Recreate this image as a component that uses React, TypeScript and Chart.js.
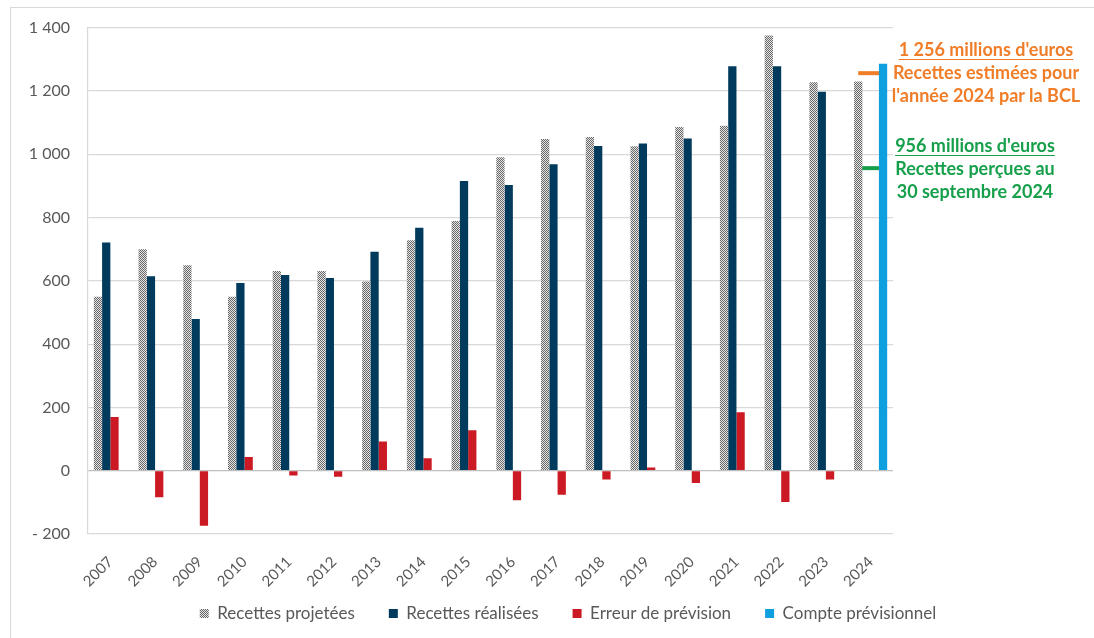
import React, { useEffect, useRef } from "react";
import { Chart, registerables } from "chart.js";

Chart.register(...registerables);

const years = ["2007", "2008", "2009", "2010", "2011", "2012", "2013", "2014", "2015", "2016", "2017", "2018", "2019", "2020", "2021", "2022", "2023", "2024"];
const recettesProjetees = [550, 700, 649, 550, 631, 631, 598, 728, 789, 990, 1048, 1054, 1025, 1086, 1090, 1375, 1227, 1230];
const recettesRealisees = [721, 614, 479, 593, 618, 609, 692, 768, 915, 903, 968, 1026, 1034, 1050, 1278, 1278, 1197, null];
const erreurPrevision = [170, -84, -174, 43, -15, -19, 92, 39, 128, -93, -76, -28, 10, -39, 185, -99, -28, null];
const comptePrevisionnel = [null, null, null, null, null, null, null, null, null, null, null, null, null, null, null, null, null, 1286];
const markerValues = [1256, 956];
const markerColors = ["#F07D28", "#17A04B"];
const yMin = -200;
const yMax = 1400;
const yStep = 200;

const FONT = "Lato, 'Noto Sans', sans-serif";

function makePattern(): CanvasPattern | string {
  const c = document.createElement("canvas");
  c.width = 2;
  c.height = 2;
  const g = c.getContext("2d");
  if (!g) return "#aaaaaa";
  g.fillStyle = "#e6e6e6";
  g.fillRect(0, 0, 2, 2);
  g.fillStyle = "#666666";
  g.fillRect(0, 0, 1, 1);
  g.fillRect(1, 1, 1, 1);
  const p = g.createPattern(c, "repeat");
  return p || "#aaaaaa";
}

function formatTick(v: number): string {
  const abs = Math.abs(v);
  const s = abs.toString().replace(/\B(?=(\d{3})+(?!\d))/g, " ");
  return v < 0 ? "- " + s : s;
}

const markerPlugin = {
  id: "markers",
  beforeDatasetsDraw(chart: any) {
    const y = chart.scales.y;
    const m0 = chart.getDatasetMeta(0).data[years.length - 1];
    const m3 = chart.getDatasetMeta(3).data[years.length - 1];
    if (!m0 || !m3) return;
    const ctx = chart.ctx;
    ctx.save();
    markerValues.forEach((v, i) => {
      const py = y.getPixelForValue(v);
      ctx.strokeStyle = markerColors[i];
      ctx.lineWidth = 4;
      ctx.beginPath();
      ctx.moveTo(m0.x, py);
      ctx.lineTo(m3.x, py);
      ctx.stroke();
    });
    ctx.restore();
  },
};

// the legend in the reference is centred on a wider band than the plot area
const legendShift = {
  id: "legendShift",
  afterLayout(chart: any) {
    const l = chart.legend;
    if (l) {
      l.left = 42;
      l.right = chart.width;
    }
  },
};

export default function App() {
  const ref = useRef<HTMLCanvasElement | null>(null);

  useEffect(() => {
    if (!ref.current) return;
    const pattern = makePattern();
    const chart = new Chart(ref.current, {
      type: "bar",
      data: {
        labels: years,
        datasets: [
          { label: "Recettes projetées", data: recettesProjetees, backgroundColor: pattern as any },
          { label: "Recettes réalisées", data: recettesRealisees as any, backgroundColor: "#003A5D" },
          { label: "Erreur de prévision", data: erreurPrevision as any, backgroundColor: "#CC1A24" },
          { label: "Compte prévisionnel", data: comptePrevisionnel as any, backgroundColor: "#0EA0DE" },
        ],
      },
      options: {
        animation: false,
        responsive: false,
        devicePixelRatio: 1,
        layout: { padding: { top: 26, right: 201, bottom: 6, left: 0 } },
        datasets: { bar: { categoryPercentage: 0.74, barPercentage: 1 } },
        plugins: {
          tooltip: { enabled: false },
          legend: {
            position: "bottom",
            labels: {
              font: { family: FONT, size: 17 },
              color: "#595959",
              boxWidth: 9,
              boxHeight: 9,
              padding: 34,
            },
          },
        },
        scales: {
          x: {
            grid: { display: false },
            border: { display: false },
            ticks: {
              font: { family: FONT, size: 15 },
              color: "#595959",
              minRotation: 45,
              maxRotation: 45,
              padding: 11,
            },
            afterFit(scale: any) {
              scale.height = 37;
              scale._computeLabelArea = () => undefined;
            },
          },
          y: {
            min: yMin,
            max: yMax,
            grid: {
              color: (ctx: any) => (ctx.tick && ctx.tick.value === 0 ? "#bfbfbf" : "#d9d9d9"),
              lineWidth: 1.2,
              drawTicks: false,
            },
            border: { display: true, color: "#d9d9d9", width: 1.2 },
            ticks: {
              stepSize: yStep,
              font: { family: FONT, size: 16 },
              color: "#595959",
              padding: 18,
              callback: (v: any) => formatTick(Number(v)),
            },
            afterFit(scale: any) {
              scale.width = 88;
            },
          },
        },
      },
      plugins: [markerPlugin, legendShift],
    });
    return () => chart.destroy();
  }, []);

  const orange = markerColors[0];
  const green = markerColors[1];
  const lineStyle: React.CSSProperties = {
    position: "absolute",
    fontFamily: FONT,
    fontWeight: 700,
    fontSize: 18,
    lineHeight: "23px",
    whiteSpace: "nowrap",
    transform: "translateX(-50%)",
    textAlign: "center",
  };

  return (
    <div style={{ position: "fixed", left: 0, top: 0, width: 1094, height: 638, background: "#fff", overflow: "hidden" }}>
      <div
        style={{
          position: "absolute",
          left: 10,
          top: 7,
          width: 1200,
          height: 800,
          borderLeft: "1px solid #d9d9d9",
          borderTop: "1px solid #d9d9d9",
        }}
      />
      <canvas ref={ref} width={1094} height={638} style={{ position: "absolute", left: 0, top: 0 }} />
      <div style={{ ...lineStyle, left: 986, top: 38, color: orange }}>
        <div style={{ textDecoration: "underline", textUnderlineOffset: 3 }}>1 256 millions d'euros</div>
        <div>Recettes estimées pour</div>
        <div>l'année 2024 par la BCL</div>
      </div>
      <div style={{ ...lineStyle, left: 975, top: 134, color: green }}>
        <div style={{ textDecoration: "underline", textUnderlineOffset: 3 }}>956 millions d'euros</div>
        <div>Recettes perçues au</div>
        <div>30 septembre 2024</div>
      </div>
    </div>
  );
}
